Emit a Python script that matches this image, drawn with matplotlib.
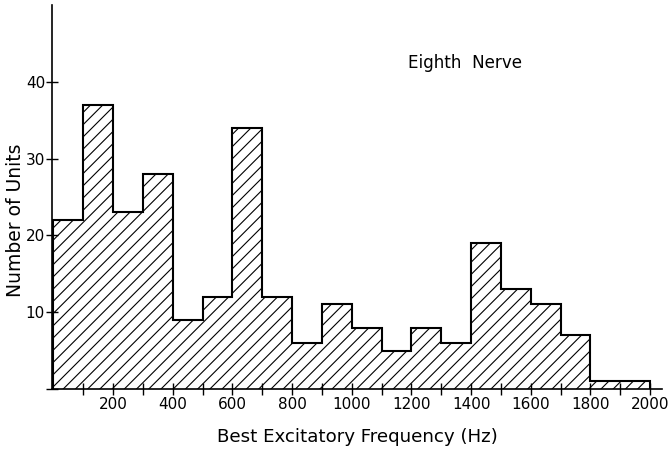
import matplotlib
matplotlib.use("Agg")
import matplotlib.pyplot as plt
import numpy as np

bin_edges = [0, 100, 200, 300, 400, 500, 600, 700, 800, 900, 1000,
             1100, 1200, 1300, 1400, 1500, 1600, 1700, 1800, 1900, 2000]
counts = [22, 37, 23, 28, 9, 12, 34, 12, 6, 11, 8, 5, 8, 6, 19, 13, 11, 7, 1, 1]
x_tick_labels = ["200", "400", "600", "800", "1000", "1200", "1400", "1600", "1800", "2000"]
y_tick_labels = ["10", "20", "30", "40"]

DPI = 110
k = 100.0 / DPI  # keep pixel sizes as if at 100 dpi

plt.rcParams['font.family'] = ['DejaVu Sans']
plt.rcParams['hatch.linewidth'] = 0.8 * k

fig = plt.figure(figsize=(670 / DPI, 450 / DPI), dpi=DPI)
ax = fig.add_axes([0.0776, 0.1356, 0.9104, 0.8534])

ax.stairs(counts, bin_edges, fill=True, hatch='///', facecolor='white',
          edgecolor='black', linewidth=0)
ax.stairs(counts, bin_edges, fill=False, color='black', linewidth=1.5 * k)

ax.set_xlim(-5, 2040)
ax.set_ylim(0, 50)
for s in ['top', 'right']:
    ax.spines[s].set_visible(False)
for s in ['left', 'bottom']:
    ax.spines[s].set_linewidth(1.2 * k)

ax.set_xticks([100 * i for i in range(1, 21)])
ax.set_xticklabels(["" if i % 2 else x_tick_labels[i // 2 - 1] for i in range(1, 21)])
ax.set_yticks([0, 10, 20, 30, 40])
ax.set_yticklabels([""] + y_tick_labels)
ax.tick_params(axis='both', direction='inout', length=8 * k, width=1.0 * k, labelsize=11 * k)
ax.tick_params(axis='x', pad=2 * k)
ax.tick_params(axis='y', pad=1 * k)

ax.set_xlabel("Best Excitatory Frequency (Hz)", fontsize=13.2 * k, labelpad=11 * k)
ax.set_ylabel("Number of Units", fontsize=13.5 * k)
ax.yaxis.set_label_coords(-0.044, 0.44)
ax.text(1190, 42.5, "Eighth  Nerve", fontsize=12.1 * k, ha='left', va='center')

fig.savefig("out.png", dpi=DPI)
